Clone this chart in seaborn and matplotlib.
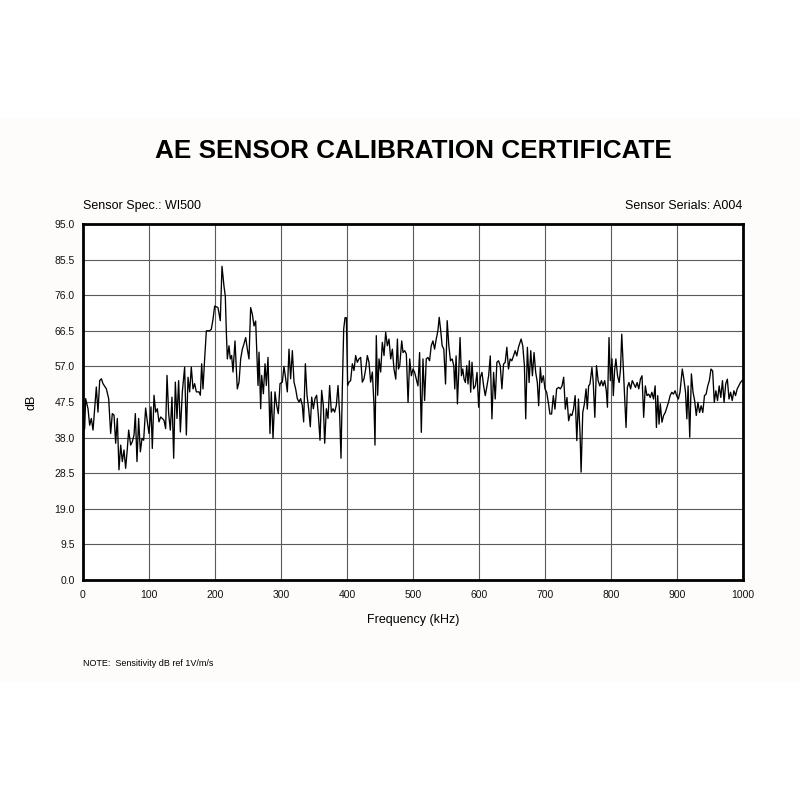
import matplotlib
matplotlib.use("Agg")
import matplotlib.pyplot as plt
import seaborn as sns
import pandas as pd
from matplotlib.patches import Rectangle

# ---- data ----
freq_khz = [
    0, 2.5, 4, 7.6, 10.1, 12.6, 15.2, 17.7, 20.2, 22.7, 25.3, 27.8, 30.3, 35.4, 38.9,
    41.9, 44.4, 47.0, 49.5, 52.0, 54.5, 57.1, 59.6, 62.1, 64.6, 67.2, 69.2, 72.2, 74.7,
    77.3, 79.3, 81.8, 84.3, 86.9, 89.4, 91.9, 94.9, 97.5, 100, 103, 105, 107.6, 110.1,
    112.6, 115.1, 117.7, 120.2, 122.7, 125.2, 127.3, 129.8, 132.3, 134.8, 137.4, 139.9,
    142.4, 144.9, 147.5, 150.5, 154, 156.6, 159.1, 161.6, 164.1, 166.7, 169.2, 171.7,
    175.7, 177.8, 179.8, 181.8, 184.3, 186.9, 191.9, 194.4, 197, 199.5, 204.5, 208,
    210.6, 213.6, 215.6, 217.2, 218.7, 221.2, 223.2, 225.2, 227.3, 230.3,
    233.8, 236.4, 238.9, 241.4, 243.9, 246.5, 249, 251.5, 254, 256.6, 259.1, 261.6,
    263.1, 265.2, 266.7, 269.2, 270.7, 273.3, 275.8, 277.8, 280.3, 283.3, 285.3, 287.9,
    290.9, 293.4, 295.9, 298.5, 302, 304.5, 307.1, 309.6, 312.1, 314.6, 317.2, 319.7,
    322.2, 324.7, 327.3, 329.8, 332.3, 334.3, 336.9, 339.4, 341.9, 344.4, 346.5, 349,
    351.5, 354, 356.6, 359.1, 361.6, 364.1, 366.2, 368.7, 371.2, 373.7, 376.3, 378.8,
    381.3, 383.8, 386.4, 388.9, 390.9, 392.9, 395, 397, 399, 401, 403, 405.5, 408.1,
    410.6, 413.1, 415.6, 418.2, 420.7, 423.2, 425.7, 428.3, 430.8, 433.3, 435.8, 438.4,
    440.9, 442.4, 444.4, 446.5, 448.5, 451, 453.5, 456.1, 458.6, 461.1, 463.6, 466.2,
    468.7, 471.2,
    473.9, 476.4, 477.9, 479.9, 482.9, 484.9, 487.4, 489.9, 492.5, 495, 497.5, 500,
    502.5, 505, 507.5, 510, 512.6, 515.1, 517.6, 520.1, 522.6, 525.1, 527.6, 530.2,
    532.7, 535.2, 537.7, 539.7, 541.7, 544.2, 546.7, 549.3, 551.8, 554.3, 556.8, 559.3,
    561.8, 563.3, 565.3, 567.3, 569.3, 571.3, 573.4, 575.4, 577.4, 579.4, 581.4, 583.4,
    585.4, 587.4, 589.4, 591.9, 594.5, 597, 599.5, 602, 604.5, 607, 609.5, 612.1, 614.6,
    617.1, 619.6, 622.1, 624.6, 627.1, 629.6, 632.2, 634.7, 637.2, 639.7, 642.2, 644.7,
    647.2, 649.7, 652.3, 654.8, 657.3, 659.8, 663.8, 666.3, 668.8, 670.8, 673.3, 675.9,
    678.4, 680.9, 683.4, 685.9, 688.4, 690.4, 692.9, 694.9, 697.5, 700, 702.5, 705,
    707.5, 710, 712.6, 715.1, 717.6,
    720.8, 723.3, 725.8, 728.3, 730.8, 733.3, 735.8, 738.3, 740.7, 743.2, 745.7, 748.2,
    750.7, 753.2, 754.7, 757.2, 759.7, 762.2, 764.1, 766.1, 768.1, 771.1, 773.1, 775.5,
    778, 780.5, 783, 785.5, 787.9, 790.4, 792.9, 794.6, 797, 799, 801.5, 803.5, 805.4,
    807.4, 809.9, 812.4, 814.4, 816.3, 818.8, 820.8, 822.8, 824.8, 827.2, 829.7, 832.2,
    834.7, 837.1, 839.6, 842.1, 844.6, 847, 849.5, 852, 854.5, 857, 859.5, 861.9, 864.4,
    866.9, 868.8, 870.8, 872.8, 874.7, 877.2, 879.7, 882.2, 884.7, 887.1, 889.6, 892.1,
    894.6, 897.1, 899.5, 902, 904.5, 908, 910.4, 912.9, 914.9, 916.8, 919.3, 921.8,
    924.3, 926.7, 929.2, 931.7, 934.2, 936.6, 939.1, 941.6, 944.1, 946.6, 949, 951.5,
    954, 956.5, 958.9, 961.4, 963.9, 966.4, 968.9, 971.3, 973.8, 976.3, 978.8, 981.2,
    983.7, 986.2, 988.7, 991.2, 993.6, 996.1, 1000,
]
sensitivity_db = [
    39.0, 40.4, 48.4, 45.7, 41.3, 43.1, 40.0, 45.7, 51.5, 44.8, 53.2, 53.7, 52.4, 51.0, 48.4,
    39.1, 44.4, 44.0, 36.5, 43.1, 29.4, 36.0, 31.6, 34.7, 29.8, 35.1, 40.0, 36.0, 36.9,
    38.7, 44.4, 31.6, 43.1, 34.2, 37.8, 37.3, 45.9, 42.2, 39.1, 46.2, 35.1, 49.3, 44.8,
    45.7, 42.2, 43.5, 43.1, 42.6, 40.4, 54.6, 44.4, 40.0, 48.8, 32.5, 52.8,
    43.1, 53.2, 39.5, 50.2, 56.8, 38.7, 54.1, 50.2, 56.8, 51.0, 52.4, 50.2,
    50.2, 49.3, 57.7, 51.0, 59.0, 66.5, 66.5, 66.9, 69.6, 73.1, 72.7, 69.2,
    83.7, 78.4, 75.8, 66.1, 59.0, 62.5, 59.0, 59.9, 55.5, 63.8,
    51.0, 52.8, 59.0, 61.6, 63.0, 64.7, 61.6, 59.0, 72.7, 70.9, 67.8, 69.1,
    61.6, 51.9, 60.8, 45.7, 54.6, 49.7, 57.7, 51.9, 59.4, 39.1, 50.2, 37.8,
    50.2, 46.6, 44.4, 52.4, 52.8, 57.0, 53.7, 50.2, 61.6, 53.7, 61.2, 52.8,
    51.0, 48.4, 47.5, 48.4, 46.6, 42.2, 57.7, 49.3, 45.7, 40.9, 48.8, 45.7,
    48.4, 49.3, 44.0, 37.3, 50.6, 46.6, 36.5, 45.7, 43.1, 51.9, 44.8, 45.7,
    44.8, 46.6, 51.9, 44.0, 32.5, 51.0, 67.0, 70.0, 70.0, 51.9, 52.8, 53.2, 57.7,
    55.9, 59.9, 58.1, 59.0, 59.4, 52.8, 53.7, 56.3, 59.9, 58.1, 52.8, 55.5,
    46.6, 36.0, 65.2, 49.3, 59.0, 55.5, 63.4, 59.9, 66.1, 62.5, 64.3, 59.0,
    61.6, 56.3,
    53.6, 64.3, 56.3, 57.2, 63.8, 60.7, 61.2, 60.3, 47.4, 59.0, 54.5, 56.3,
    55.4, 53.6, 51.8, 60.7, 39.4, 59.0, 47.9, 59.0, 59.4, 58.5, 62.5, 63.8,
    61.6, 64.3, 66.5, 70.1, 67.0, 62.5, 61.6, 52.3, 69.2, 62.5, 58.5, 59.0,
    57.2, 51.0, 59.8, 47.0, 55.4, 64.7, 54.5, 56.3, 53.6, 52.7, 57.2, 52.3,
    58.5, 50.1, 58.1, 51.0, 51.8, 55.4, 46.1, 54.1, 55.4, 51.8, 49.2, 51.8, 54.5,
    59.8, 43.0, 55.4, 48.3, 58.1, 58.5, 57.2, 51.0, 57.6, 58.1, 62.1, 56.3,
    59.0, 58.5, 59.8, 61.2, 59.8, 62.1, 64.3, 62.5, 57.2, 43.0, 62.1, 52.7,
    61.2, 54.5, 60.7, 55.4, 52.7, 46.5, 56.7, 52.7, 54.5, 51.0, 50.1, 47.4,
    44.3, 44.3, 49.2, 45.6, 51.0,
    51.4, 51.0, 51.8, 54.1, 45.6, 48.7, 42.5, 44.3, 43.9, 45.6, 49.2, 37.2,
    48.3, 38.5, 28.8, 44.7, 47.0, 51.0, 45.6, 51.8, 52.3, 56.7, 52.7, 43.4,
    57.2, 53.2, 51.8, 53.2, 51.8, 53.2, 50.5, 46.1, 64.7, 53.2, 59.0, 49.2, 55.8,
    59.0, 54.5, 52.7, 56.3, 65.6, 56.3, 48.3, 40.7, 51.4, 52.7, 51.0, 53.2,
    52.3, 51.4, 52.7, 51.0, 53.6, 54.5, 43.4, 51.8, 49.2, 49.6, 48.7, 50.1, 48.3,
    51.8, 40.7, 49.2, 41.6, 47.0, 42.1, 43.9, 44.7, 46.1, 47.4, 49.2, 50.1,
    49.6, 50.5, 49.2, 48.3, 50.1, 56.3, 53.6, 50.1, 43.0, 51.8, 38.1, 55.0,
    50.1, 47.9, 43.9, 47.4, 44.7, 46.5, 44.7, 49.2, 49.6, 51.8, 53.2, 56.3,
    55.8, 47.4, 50.5, 47.9, 51.8, 48.7, 53.2, 47.4, 52.3, 53.6, 48.3, 50.1,
    47.9, 50.5, 49.2, 51.0, 51.8, 52.7, 53.5,
]
x_ticks = [0, 100, 200, 300, 400, 500, 600, 700, 800, 900, 1000]
y_ticks = [0.0, 9.5, 19.0, 28.5, 38.0, 47.5, 57.0, 66.5, 76.0, 85.5, 95.0]

title = "AE SENSOR CALIBRATION CERTIFICATE"
spec_text = "Sensor Spec.: WI500"
serial_text = "Sensor Serials: A004"
note_text = "NOTE:  Sensitivity dB ref 1V/m/s"

df = pd.DataFrame({"Frequency (kHz)": freq_khz, "dB": sensitivity_db})

sns.set_style("white")
plt.rcParams["font.family"] = ["Liberation Sans", "DejaVu Sans"]

fig = plt.figure(figsize=(8, 8), dpi=100)
fig.patch.set_facecolor("white")
# faint off-white band behind the certificate body
fig.patches.append(Rectangle((0, 1 - 682 / 800), 1, (682 - 118) / 800,
                             transform=fig.transFigure, facecolor="#fdfcfb",
                             edgecolor="none", zorder=-10))

ax = fig.add_axes([83 / 800, 1 - 580 / 800, 660 / 800, 356 / 800])
ax.set_facecolor("white")

sns.lineplot(data=df, x="Frequency (kHz)", y="dB", ax=ax, color="black",
             linewidth=0.95, estimator=None, sort=False)

ax.set_xlim(0, 1000)
ax.set_ylim(0, 95)
ax.set_xticks(x_ticks)
ax.set_yticks(y_ticks)
ax.set_xticklabels([str(t) for t in x_ticks])
ax.set_yticklabels([f"{t:.1f}" for t in y_ticks])
ax.tick_params(axis="both", length=0, labelsize=7.5, colors="#111111")
ax.tick_params(axis="x", pad=7)
ax.tick_params(axis="y", pad=6)
ax.grid(True, color="#5a5a5a", linewidth=0.8)
ax.set_axisbelow(True)
for side in ["left", "right", "top", "bottom"]:
    ax.spines[side].set_visible(True)
    ax.spines[side].set_color("black")
    ax.spines[side].set_linewidth(2.0)

ax.set_xlabel("Frequency (kHz)", fontsize=9, labelpad=10, color="black")
ax.set_ylabel("dB", fontsize=9, labelpad=12, color="black")

fig.text(413 / 800, 1 - 151 / 800, title, ha="center", va="center",
         fontsize=18.8, fontweight="bold", color="black")
fig.text(83 / 800, 1 - 206 / 800, spec_text, ha="left", va="center", fontsize=9, color="black")
fig.text(742 / 800, 1 - 206 / 800, serial_text, ha="right", va="center", fontsize=9, color="black")
fig.text(83 / 800, 1 - 663 / 800, note_text, ha="left", va="center", fontsize=6.5, color="black")

fig.savefig("out.png", dpi=100)
